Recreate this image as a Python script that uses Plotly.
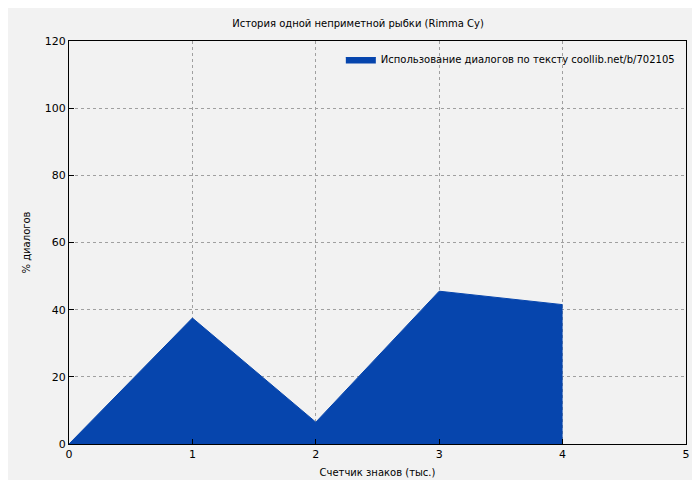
import plotly.graph_objects as go

chars_k = [0, 1, 2, 3, 4]
dialog_pct = [0, 37.5, 6.5, 45.5, 41.5]

fig = go.Figure()
fig.add_trace(go.Scatter(
    x=chars_k, y=dialog_pct, mode="lines", fill="tozeroy",
    line=dict(color="#0645ad", width=1), fillcolor="#0645ad",
    name="Использование диалогов по тексту coollib.net/b/702105",
))

axis = dict(showline=True, mirror=True, linecolor="black", linewidth=1,
            showgrid=True, gridcolor="#a0a0a0", griddash="dot", gridwidth=1,
            zeroline=False, ticks="inside", ticklen=5, tickcolor="black",
            tickfont=dict(size=11, color="black"))

fig.update_layout(
    width=700, height=480,
    paper_bgcolor="#f2f2f2", plot_bgcolor="#f2f2f2",
    font=dict(family="DejaVu Sans", size=11, color="black"),
    title=dict(text="История одной неприметной рыбки (Rimma Cy)", x=0.5, y=0.975,
               xanchor="center", font=dict(size=10)),
    margin=dict(l=61, r=22, t=33, b=41),
    showlegend=True,
    legend=dict(x=0.99, y=0.99, xanchor="right", yanchor="top",
                bgcolor="rgba(0,0,0,0)", font=dict(size=10)),
    xaxis=dict(axis, range=[0, 5], dtick=1,
               title=dict(text="Счетчик знаков (тыс.)", font=dict(size=10), standoff=8)),
    yaxis=dict(axis, range=[0, 120], dtick=20,
               title=dict(text="% диалогов", font=dict(size=10), standoff=12)),
)

fig.write_html("out.html")
